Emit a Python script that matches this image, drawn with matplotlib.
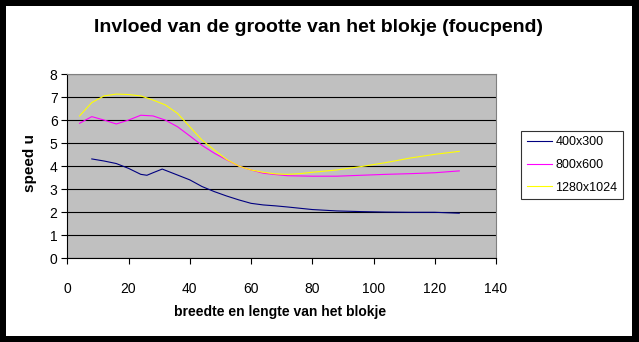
import matplotlib
matplotlib.use('Agg')
import matplotlib.pyplot as plt

plt.rcParams['font.family'] = ['Liberation Sans', 'DejaVu Sans']

x_400 = [8, 12, 16, 20, 24, 26, 28, 31, 36, 40, 44, 48, 52, 56, 60, 64, 68, 72,
         80, 88, 96, 104, 112, 120, 128]
speed_400 = [4.32, 4.23, 4.12, 3.91, 3.65, 3.61, 3.72, 3.88, 3.62, 3.41, 3.12,
             2.90, 2.71, 2.54, 2.39, 2.32, 2.28, 2.23, 2.12, 2.06, 2.03, 2.01,
             2.00, 2.00, 1.96]

x_800 = [4, 8, 12, 16, 20, 24, 28, 32, 36, 40, 44, 48, 52, 56, 60, 64, 68, 72,
         80, 88, 96, 104, 112, 120, 128]
speed_800 = [5.87, 6.16, 6.01, 5.84, 6.01, 6.22, 6.19, 6.01, 5.72, 5.32, 4.91,
             4.57, 4.28, 4.01, 3.84, 3.70, 3.64, 3.59, 3.57, 3.57, 3.61, 3.65,
             3.68, 3.72, 3.80]

x_1280 = [4, 8, 12, 16, 20, 24, 28, 32, 36, 40, 44, 48, 52, 56, 60, 64, 68, 72,
          76, 80, 88, 96, 104, 112, 120, 128]
speed_1280 = [6.19, 6.77, 7.06, 7.14, 7.12, 7.06, 6.88, 6.67, 6.30, 5.72, 5.14,
              4.71, 4.30, 4.01, 3.84, 3.74, 3.67, 3.65, 3.68, 3.74, 3.84, 3.99,
              4.16, 4.36, 4.52, 4.65]

W, H = 639, 342
fig = plt.figure(figsize=(W / 100, H / 100), dpi=100, facecolor='black')

# white inner panel inside the black frame
fig.patches.append(plt.Rectangle((6 / W, 1 - 336 / H), (632 - 6) / W, (336 - 6) / H,
                                 transform=fig.transFigure, facecolor='white',
                                 edgecolor='none', zorder=-10))

left, right = 67.3 / W, 496 / W
top, bottom = 1 - 74.3 / H, 1 - 258.3 / H
ax = fig.add_axes([left, bottom, right - left, top - bottom])
ax.set_zorder(1)
ax.set_facecolor('#c0c0c0')

ax.plot(x_400, speed_400, color='#000080', lw=0.8, label='400x300')
ax.plot(x_800, speed_800, color='#ff00ff', lw=0.8, label='800x600')
ax.plot(x_1280, speed_1280, color='#ffff00', lw=0.8, label='1280x1024')

ax.set_xlim(0, 140)
ax.set_ylim(0, 8)
ax.set_xticks(range(0, 141, 20))
ax.set_yticks(range(0, 9))
ax.yaxis.grid(True, color='black', lw=0.8)
ax.set_axisbelow(True)
ax.tick_params(direction='out', length=4, width=0.8, labelsize=10, pad=3)
ax.tick_params(axis='x', pad=13)

for s in ['top', 'right']:
    ax.spines[s].set_color('#808080')
for s in ['left', 'bottom']:
    ax.spines[s].set_color('black')
for s in ax.spines.values():
    s.set_linewidth(0.8)

fig.text(318 / W, 1 - 28 / H, 'Invloed van de grootte van het blokje (foucpend)',
         ha='center', va='center', fontsize=14, fontweight='bold')
fig.text(280 / W, 1 - 312 / H, 'breedte en lengte van het blokje',
         ha='center', va='center', fontsize=10, fontweight='bold')
fig.text(30 / W, 1 - 163 / H, 'speed u', rotation=90,
         ha='center', va='center', fontsize=11, fontweight='bold')

leg = fig.legend(loc='upper left', bbox_to_anchor=(521 / W, 1 - 130.7 / H),
                 frameon=True, fancybox=False, fontsize=9, handlelength=2.0,
                 handletextpad=0.3, borderpad=0.45, labelspacing=0.85,
                 borderaxespad=0)
leg.get_frame().set_edgecolor('black')
leg.get_frame().set_linewidth(0.8)
leg.set_zorder(2)

fig.savefig('out.png', dpi=100, facecolor='black')
